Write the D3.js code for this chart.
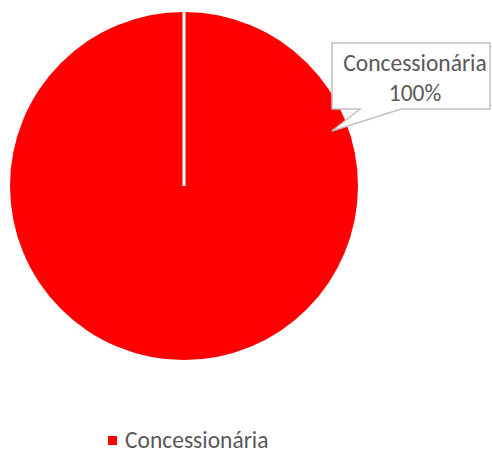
<!DOCTYPE html>
<html>
<head>
<meta charset="utf-8">
<script src="https://cdn.jsdelivr.net/npm/d3@7"></script>
<style>
  body { margin: 0; background: #fff; }
  svg { display: block; font-family: Calibri, Carlito, Lato, sans-serif; }
</style>
</head>
<body>
<div id="chart"></div>
<script>
// data
const categories = ['Concessionária'];
const values = [100];
const colors = ['#ff0000'];

const W = 492, H = 450;
const cx = 184, cy = 186, R = 174;

const svg = d3.select('#chart').append('svg')
  .attr('width', W).attr('height', H);

const pie = d3.pie().sort(null).value(d => d.value);
const arcs = pie(categories.map((c, i) => ({ name: c, value: values[i] })));
const arc = d3.arc().innerRadius(0).outerRadius(R);

const g = svg.append('g').attr('transform', `translate(${cx},${cy})`);

g.selectAll('path.slice')
  .data(arcs)
  .join('path')
  .attr('class', 'slice')
  .attr('d', arc)
  .attr('fill', (d, i) => colors[i]);

// slice borders (radial edges) in white
g.selectAll('line.edge')
  .data(arcs)
  .join('line')
  .attr('class', 'edge')
  .attr('x1', 0).attr('y1', 0)
  .attr('x2', d => d3.pointRadial(d.startAngle, R)[0])
  .attr('y2', d => d3.pointRadial(d.startAngle, R)[1])
  .attr('stroke', '#fff')
  .attr('stroke-width', 3);

// callout label
const total = d3.sum(values);
const call = svg.append('g');
const bx = 332, by = 43, bw = 158, bh = 66;
const tip = [332, 131];
call.append('path')
  .attr('d', `M${bx},${by} H${bx + bw} V${by + bh} H${401} L${tip[0]},${tip[1]} L${360},${by + bh} H${bx} Z`)
  .attr('fill', '#fff')
  .attr('stroke', '#bfbfbf')
  .attr('stroke-width', 1.5);

call.append('text')
  .attr('x', 415).attr('y', 71)
  .attr('text-anchor', 'middle')
  .attr('font-size', '23.5px').attr('fill', '#595959')
  .text(arcs[0].data.name);
call.append('text')
  .attr('x', 415).attr('y', 101)
  .attr('text-anchor', 'middle')
  .attr('font-size', '23.5px').attr('fill', '#595959')
  .text(d3.format('.0%')(values[0] / total));

// legend
const legend = svg.append('g').attr('transform', 'translate(108,436)');
legend.selectAll('rect')
  .data(categories)
  .join('rect')
  .attr('x', 0).attr('y', 0)
  .attr('width', 9).attr('height', 9)
  .attr('fill', (d, i) => colors[i]);
legend.selectAll('text')
  .data(categories)
  .join('text')
  .attr('x', 17).attr('y', 12)
  .attr('font-size', '23.5px').attr('fill', '#595959')
  .text(d => d);
</script>
</body>
</html>
